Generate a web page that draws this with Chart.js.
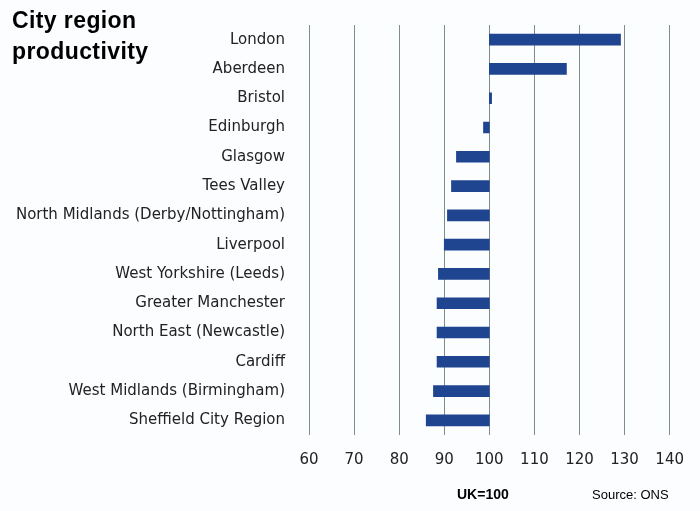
<!DOCTYPE html>
<html><head><meta charset="utf-8">
<script src="https://cdn.jsdelivr.net/npm/chart.js@4"></script>
<style>
body{margin:0;background:#fbfdff;}
#wrap{position:relative;width:700px;height:511px;}
#title{position:absolute;left:12px;top:5px;font:bold 23px "Liberation Sans",Arial,sans-serif;line-height:31px;color:#000;letter-spacing:0.4px;}
#uk{position:absolute;left:457px;top:486px;font:bold 14px "Liberation Sans",Arial,sans-serif;}
#src{position:absolute;left:592px;top:487px;font:13px "Liberation Sans",Arial,sans-serif;}
</style></head><body>
<div id="wrap"><canvas id="c" width="700" height="511"></canvas>
<div id="title">City region<br>productivity</div>
<div id="uk">UK=100</div><div id="src">Source: ONS</div></div>
<script>
const categories=["London","Aberdeen","Bristol","Edinburgh","Glasgow","Tees Valley","North Midlands (Derby/Nottingham)","Liverpool","West Yorkshire (Leeds)","Greater Manchester","North East (Newcastle)","Cardiff","West Midlands (Birmingham)","Sheffield City Region"];
const values=[129.1,117.1,100.5,98.7,92.7,91.6,90.7,90.0,88.7,88.4,88.4,88.4,87.6,86.0];
const baseline=100;
const xTicks=[60,70,80,90,100,110,120,130,140];
new Chart(document.getElementById('c'),{
type:'bar',
data:{labels:categories,datasets:[{data:values.map(v=>[baseline,v]),backgroundColor:'#1f4591',borderColor:'#1f4591',barThickness:11}]},
options:{indexAxis:'y',responsive:false,animation:false,
layout:{padding:{top:-4,right:30,bottom:26,left:0}},
plugins:{legend:{display:false},tooltip:{enabled:false}},
scales:{
x:{min:60,max:140,afterBuildTicks:a=>{a.ticks=xTicks.map(v=>({value:v}));},
grid:{color:'#7f8c8c',lineWidth:1,drawTicks:false},border:{display:false},
ticks:{color:'#222',font:{family:'DejaVu Sans',size:15},padding:16}},
y:{grid:{display:false},border:{display:false},afterFit:s=>{s.width=309;},
ticks:{color:'#222',font:{family:'DejaVu Sans',size:15},padding:16}}
}}});
</script></body></html>
